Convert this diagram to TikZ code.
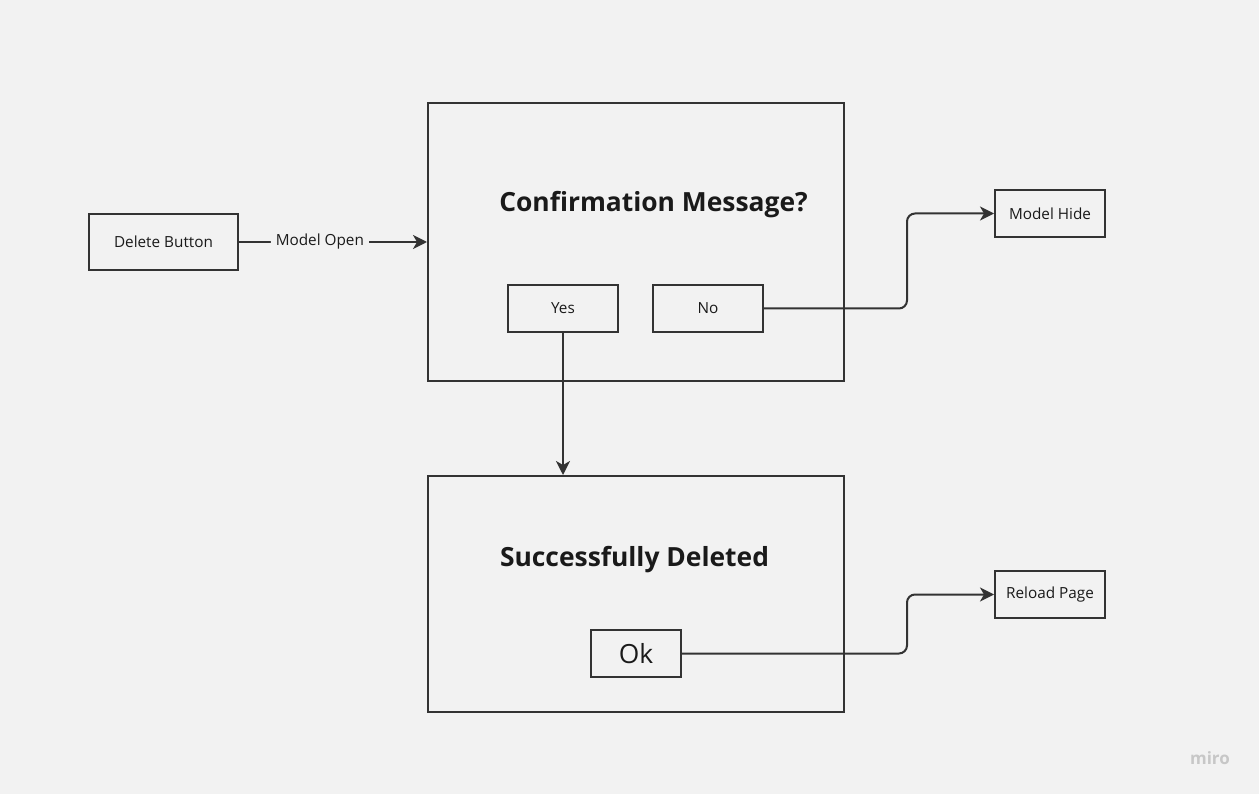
\documentclass[tikz,border=0pt]{standalone}
\usepackage{fontspec}
\setmainfont{Open Sans}
\usetikzlibrary{arrows.meta}
\definecolor{bg}{HTML}{F2F2F2}
\definecolor{ink}{HTML}{333333}
\definecolor{txt}{HTML}{1A1A1A}
\begin{document}
\begin{tikzpicture}[x=1pt,y=-1pt,
  box/.style={draw=ink,line width=2pt,fill=bg,inner sep=0pt,text=txt,font=\fontsize{15.3}{18}\selectfont},
  frame/.style={draw=ink,line width=2pt,inner sep=0pt},
  title/.style={text=txt,font=\fontsize{26.4}{30}\selectfont\bfseries},
  conn/.style={draw=ink,line width=2pt,-{Stealth[length=14pt,width=14pt,inset=4pt]},rounded corners=8pt}
]
\fill[bg] (0,0) rectangle (1259,794);
\useasboundingbox (0,0) rectangle (1259,794);
% nodes
\node[box,minimum width=149pt,minimum height=56pt] (del) at (163.5,242) {Delete Button};
\node[frame,minimum width=416pt,minimum height=278pt] (conf) at (636,242) {};
\node[title] (ct) at (653.5,205) {Confirmation Message?};
\node[box,minimum width=110pt,minimum height=47pt] (yes) at (563,308.5) {Yes};
\node[box,minimum width=110pt,minimum height=47pt] (no) at (708,308.5) {No};
\node[box,minimum width=110pt,minimum height=47pt] (hide) at (1050,213.5) {Model Hide};
\node[frame,minimum width=416pt,minimum height=236pt] (succ) at (636,594) {};
\node[title] (st) at (634.5,560) {Successfully Deleted};
\node[box,minimum width=90pt,minimum height=47pt,font=\fontsize{26.4}{30}\selectfont] (ok) at (636,653.5) {Ok};
\node[box,minimum width=110pt,minimum height=47pt] (reload) at (1050,594.5) {Reload Page};
% connectors
\draw[conn] (del.east) -- node[pos=0.43,fill=bg,inner sep=5pt,text=txt,font=\fontsize{15.3}{18}\selectfont] (mo) {Model Open} (conf.west);
\draw[conn] (no.east) -- (907,308.5) -- (907,213.5) -- (hide.west);
\draw[conn,rounded corners=0pt] (yes.south) -- (succ.north -| yes.south);
\draw[conn] (ok.east) -- (907,653.5) -- (907,594.5) -- (reload.west);
% logo
\node[text=black!22,font=\fontsize{17}{20}\selectfont\bfseries] (logo) at (1210,758) {miro};
\end{tikzpicture}
\end{document}
